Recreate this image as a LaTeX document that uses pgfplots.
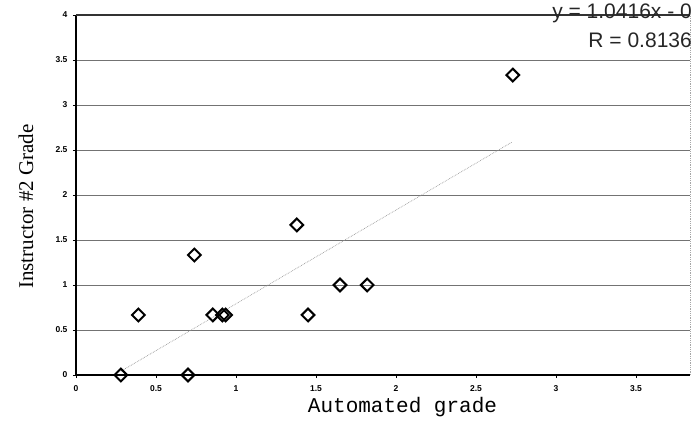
\documentclass[border=0pt]{standalone}
\usepackage{pgfplots}
\pgfplotsset{compat=1.18}
\usepackage{fontspec}
\setmainfont{Liberation Serif}
\newfontfamily\arial{Liberation Sans}
\newfontfamily\courier{Liberation Mono}
\begin{document}
\begin{tikzpicture}
\path[use as bounding box] (-76pt,-46pt) rectangle (622pt,375pt);
\begin{axis}[
  at={(0pt,0pt)}, anchor=south west,
  scale only axis, width=614pt, height=360pt,
  xmin=0, xmax=3.8375, ymin=0, ymax=4,
  xtick={0,0.5,1,1.5,2,2.5,3,3.5},
  ytick={0,0.5,1,1.5,2,2.5,3,3.5,4},
  xticklabels={0,0.5,1,1.5,2,2.5,3,3.5},
  yticklabels={0,0.5,1,1.5,2,2.5,3,3.5,4},
  ymajorgrids, grid style={black!55, line width=0.8pt},
  axis line style={draw=none},
  tick style={black, line width=0.8pt}, major tick length=3pt, tick align=outside,
  xtick pos=bottom, ytick pos=left,
  ticklabel style={font=\arial\bfseries\fontsize{8.5}{10}\selectfont},
  xticklabel style={yshift=-4pt},
  yticklabel style={xshift=-2pt},
  every axis x label/.style={at={(axis description cs:0.5,0)}, anchor=center, xshift=19.5pt, yshift=-32pt},
  every axis y label/.style={at={(axis description cs:0,0.5)}, anchor=center, rotate=90, xshift=-11.5pt, yshift=50pt},
  xlabel={\courier\fontsize{21}{24}\selectfont Automated grade},
  ylabel={\fontsize{21}{24}\selectfont Instructor \#2 Grade},
  clip=false,
]
\draw[black, line width=2pt] (rel axis cs:0,0) -- (rel axis cs:1,0);
\draw[black, line width=2pt] (rel axis cs:0,0) -- (rel axis cs:0,1);
\draw[black!80, line width=1.5pt] (rel axis cs:0,1) -- (rel axis cs:1,1);
\draw[black!35, line width=0.8pt, densely dotted] (rel axis cs:1,0) -- (rel axis cs:1,1);
% trendline y = 1.0416x - 0.25
\addplot[black!40, line width=0.7pt, densely dotted] coordinates {(0.28,0.0416) (2.725,2.588)};
\addplot[only marks, mark=square, mark size=4.5pt,
  mark options={rotate=45, fill=white, draw=black, line width=2pt, solid}]
  coordinates {
  (0.28,0) (0.39,0.667) (0.70,0) (0.74,1.333) (0.855,0.667)
  (0.915,0.667) (0.935,0.667) (1.38,1.667) (1.45,0.667)
  (1.65,1) (1.82,1) (2.73,3.333)
  };
\node[anchor=east, inner sep=0pt, text=black!85, font=\arial\fontsize{21}{24}\selectfont]
  at (rel axis cs:1,1) [xshift=2pt, yshift=2pt] {y = 1.0416x - 0};
\node[anchor=east, inner sep=0pt, text=black!85, font=\arial\fontsize{21}{24}\selectfont]
  at (rel axis cs:1,1) [xshift=2pt, yshift=-25pt] {R = 0.8136};
\end{axis}
\end{tikzpicture}
\end{document}
